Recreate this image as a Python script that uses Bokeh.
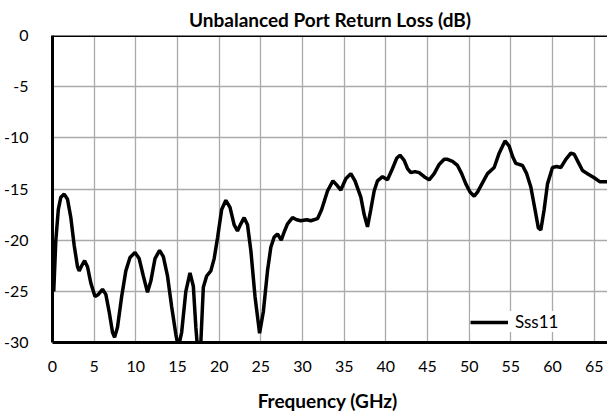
from bokeh.plotting import figure
from bokeh.models import Span, Legend, LegendItem, FixedTicker, Range1d
from bokeh.embed import file_html
from bokeh.resources import INLINE

title_text = "Unbalanced Port Return Loss (dB)"
x_label = "Frequency  (GHz)"
series_name = "Sss11"
x_ticks = [0, 5, 10, 15, 20, 25, 30, 35, 40, 45, 50, 55, 60, 65]
y_ticks = [0, -5, -10, -15, -20, -25, -30]

freq = [0.0, 0.15, 0.4, 0.7, 1.0, 1.4, 1.8, 2.2, 2.6, 3.0, 3.2, 3.5, 3.85, 4.2, 4.6,
        5.1, 5.5, 6.0, 6.4, 6.8, 7.2, 7.45, 7.8, 8.3, 8.8, 9.3, 9.9, 10.4, 10.9, 11.4,
        11.8, 12.3, 12.85, 13.3, 13.8, 14.3, 14.8, 15.1, 15.5, 16.0, 16.5, 16.9, 17.2,
        17.5, 17.8, 18.1, 18.5, 19.0, 19.4, 19.8, 20.3, 20.8, 21.3, 21.8, 22.2, 22.6,
        23.0, 23.4, 23.8, 24.3, 24.85, 25.3, 25.8, 26.2, 26.6, 27.0, 27.45, 27.8, 28.2,
        28.8, 29.3, 29.8, 30.5, 31.0, 31.8, 32.3, 33.0, 33.65, 34.1, 34.6, 35.2, 35.8,
        36.3, 37.0, 37.4, 37.8, 38.2, 38.6, 39.0, 39.6, 40.2, 40.8, 41.3, 41.7, 42.2,
        42.6, 43.0, 43.5, 44.0, 44.6, 45.2, 45.8, 46.4, 47.0, 47.4, 48.0, 48.6, 49.1,
        49.6, 50.1, 50.6, 51.0, 51.4, 52.2, 53.0, 53.6, 54.3, 54.8, 55.2, 55.6, 56.4,
        56.9, 57.4, 57.9, 58.3, 58.6, 59.0, 59.4, 60.0, 60.5, 61.0, 61.6, 62.2, 62.6,
        63.1, 63.6, 64.2, 65.0, 65.7, 66.6]
sss11 = [-20.0, -25.0, -20.0, -17.0, -15.8, -15.5, -16.0, -17.8, -20.5, -22.6, -23.0, -22.5, -22.0, -22.6, -24.2,
         -25.5, -25.3, -24.8, -25.3, -27.0, -29.0, -29.5, -28.5, -25.5, -23.0, -21.7, -21.2, -21.8, -23.5, -25.1,
         -24.0, -21.8, -21.0, -21.6, -23.5, -26.5, -29.2, -30.5, -29.0, -25.0, -23.2, -24.5, -28.5,
         -31.5, -30.0, -24.6, -23.5, -23.0, -21.8, -19.8, -17.0, -16.1, -16.8, -18.5, -19.1, -18.4,
         -17.8, -18.5, -21.0, -25.5, -29.1, -27.0, -23.0, -20.7, -19.7, -19.4, -20.0, -19.2, -18.4,
         -17.8, -18.0, -18.1, -18.0, -18.1, -17.9, -17.0, -15.2, -14.2, -14.6, -15.1, -14.0, -13.5,
         -14.2, -15.8, -17.5, -18.7, -17.0, -15.2, -14.2, -13.8, -14.1, -13.0, -12.0, -11.7, -12.2,
         -13.0, -13.4, -13.3, -13.4, -13.8, -14.1, -13.5, -12.6, -12.1, -12.1, -12.3, -12.7, -13.5,
         -14.5, -15.3, -15.7, -15.3, -14.7, -13.5, -12.9, -11.5, -10.3, -10.8, -11.8, -12.5, -12.7,
         -13.5, -14.8, -17.0, -18.8, -19.0, -17.0, -14.5, -12.9, -12.8, -12.9, -12.1, -11.5, -11.6,
         -12.4, -13.2, -13.5, -13.9, -14.3, -14.3]

FONT = "Lato"

p = figure(width=607, height=417, x_range=Range1d(0, 66.6), y_range=Range1d(-30, 0),
           output_backend="svg", toolbar_location=None, title=title_text,
           min_border_left=52, min_border_right=0, min_border_top=35, min_border_bottom=75)

p.title.text_font = FONT
p.title.text_font_size = "19px"
p.title.text_font_style = "bold"
p.title.align = "center"
p.title.text_color = "#000000"

p.outline_line_color = None
p.background_fill_color = "white"
p.border_fill_color = "white"

for ax in (p.xaxis[0], p.yaxis[0]):
    ax.axis_line_color = "black"
    ax.axis_line_width = 3
    ax.major_tick_line_color = None
    ax.minor_tick_line_color = None
    ax.major_label_text_font = FONT
    ax.major_label_text_font_size = "16px"
    ax.major_label_text_color = "#000000"

p.xaxis.ticker = FixedTicker(ticks=x_ticks)
p.yaxis.ticker = FixedTicker(ticks=y_ticks)
p.yaxis.major_label_overrides = {t: str(t) for t in y_ticks}
p.xaxis.major_label_standoff = 12
p.yaxis.major_label_standoff = 18
p.xaxis.axis_label = x_label
p.xaxis.axis_label_text_font = FONT
p.xaxis.axis_label_text_font_size = "19px"
p.xaxis.axis_label_text_font_style = "bold"
p.xaxis.axis_label_text_color = "#000000"
p.xaxis.axis_label_standoff = 14

p.xgrid.ticker = FixedTicker(ticks=x_ticks)
p.ygrid.ticker = FixedTicker(ticks=y_ticks)
for g in (p.xgrid[0], p.ygrid[0]):
    g.grid_line_color = "#aaaaaa"
    g.grid_line_width = 1.3

p.add_layout(Span(location=0, dimension="width", line_color="black", line_width=3))

r = p.line(freq, sss11, line_color="black", line_width=3.5)

legend = Legend(items=[LegendItem(label=series_name, renderers=[r])], location=(418, 10),
                padding=20, margin=0, glyph_width=38, glyph_height=20, label_standoff=7,
                label_text_font=FONT, label_text_font_size="17px", label_text_color="#000000",
                background_fill_color="white", background_fill_alpha=1.0,
                border_line_color=None)
p.add_layout(legend, "center")

open("out.html", "w").write(file_html(p, INLINE))
